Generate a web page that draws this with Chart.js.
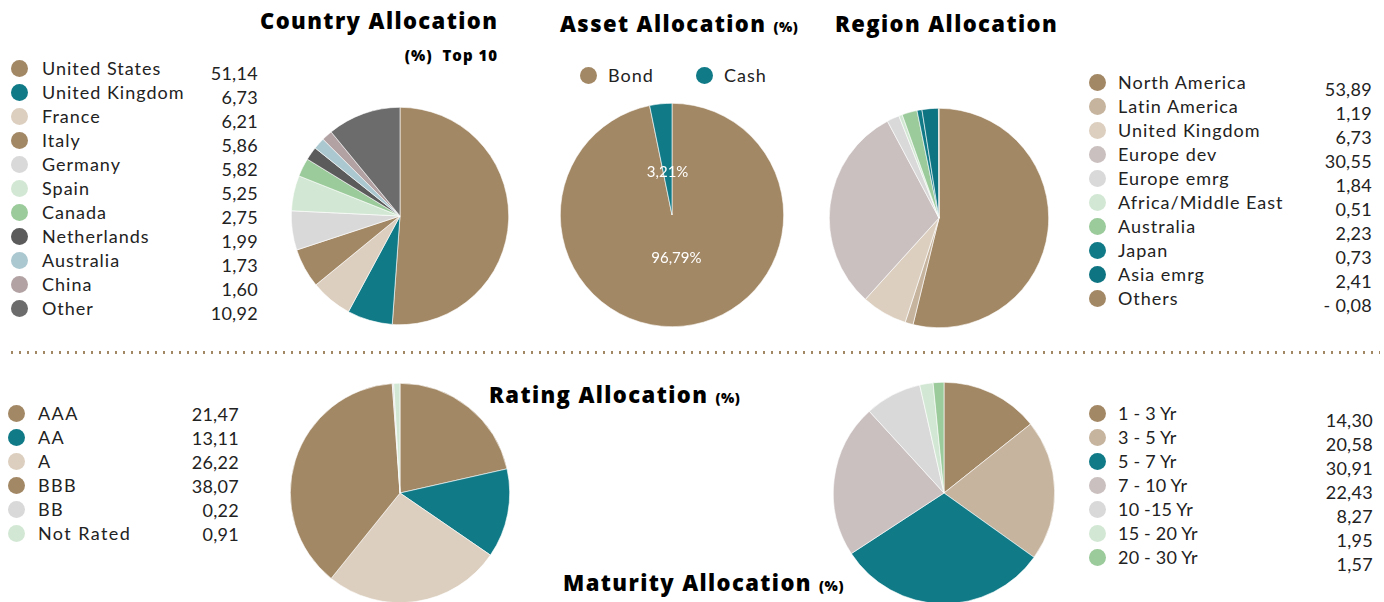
<!DOCTYPE html>
<html>
<head>
<meta charset="utf-8">
<script src="https://cdn.jsdelivr.net/npm/chart.js@4.4.1/dist/chart.umd.min.js"></script>
<style>
  body { margin: 0; background: #fff; width: 1384px; height: 602px; overflow: hidden; position: relative; font-family: "Lato", "Open Sans", sans-serif; color: #222; }
  .title { position: absolute; font-family: "Open Sans", sans-serif; font-weight: 800; font-size: 22px; letter-spacing: 1.4px; color: #000; white-space: nowrap; line-height: 1; }
  .title small { font-size: 14px; font-weight: 800; letter-spacing: 0.5px; }
  .pie { position: absolute; }
  .row { position: absolute; font-size: 18px; line-height: 20px; letter-spacing: 1px; white-space: nowrap; }
  .dot { position: absolute; width: 17px; height: 17px; border-radius: 50%; }
  .val { position: absolute; font-size: 18px; line-height: 20px; letter-spacing: 0.3px; text-align: right; white-space: nowrap; }
  .dots { position: absolute; left: 8px; top: 351px; width: 1372px; height: 3px;
          background-image: radial-gradient(circle, #a38865 1.2px, transparent 1.4px);
          background-size: 8px 3px; }
</style>
</head>
<body>
<div class="title" style="left:260px;top:9px;">Country Allocation</div>
<div class="title" style="left:360px;top:41px;width:138px;text-align:right;"><small style="font-size:15px;letter-spacing:1px;">(%)&nbsp; Top 10</small></div>
<div class="title" style="left:560px;top:12px;">Asset Allocation <small>(%)</small></div>
<div class="title" style="left:835px;top:12px;">Region Allocation</div>
<div class="title" style="left:489px;top:383px;">Rating Allocation <small>(%)</small></div>
<div class="title" style="left:563px;top:571px;">Maturity Allocation <small>(%)</small></div>
<div class="dots"></div>

<canvas id="country" class="pie" width="218" height="218" style="left:291px;top:107px;"></canvas>
<canvas id="asset" class="pie" width="224" height="224" style="left:560px;top:103px;"></canvas>
<canvas id="region" class="pie" width="220" height="220" style="left:829px;top:108px;"></canvas>
<canvas id="rating" class="pie" width="220" height="220" style="left:290px;top:383px;"></canvas>
<canvas id="maturity" class="pie" width="222" height="222" style="left:833px;top:382px;"></canvas>

<script>
// ---- data ----
const countryLabels = ["United States", "United Kingdom", "France", "Italy", "Germany", "Spain", "Canada", "Netherlands", "Australia", "China", "Other"];
const countryValues = [51.14, 6.73, 6.21, 5.86, 5.82, 5.25, 2.75, 1.99, 1.73, 1.60, 10.92];
const countryColors = ["#a38865", "#107a87", "#dccfbf", "#a38865", "#d9d9d9", "#d3e8d4", "#9bca9b", "#5b5b5b", "#abc8d0", "#b3a2a4", "#6c6c6c"];

const assetLabels = ["Bond", "Cash"];
const assetValues = [96.79, 3.21];
const assetColors = ["#a38865", "#107a87"];

const regionLabels = ["North America", "Latin America", "United Kingdom", "Europe dev", "Europe emrg", "Africa/Middle East", "Australia", "Japan", "Asia emrg", "Others"];
const regionValues = [53.89, 1.19, 6.73, 30.55, 1.84, 0.51, 2.23, 0.73, 2.41, -0.08];
const regionColors = ["#a38865", "#c6b49e", "#dccfbf", "#cbc0c0", "#d9d9d9", "#d3e8d4", "#9bca9b", "#107a87", "#0f7482", "#a38865"];

const ratingLabels = ["AAA", "AA", "A", "BBB", "BB", "Not Rated"];
const ratingValues = [21.47, 13.11, 26.22, 38.07, 0.22, 0.91];
const ratingColors = ["#a38865", "#107a87", "#dccfbf", "#a38865", "#d9d9d9", "#d3e8d4"];

const maturityLabels = ["1 - 3 Yr", "3 - 5 Yr", "5 - 7 Yr", "7 - 10 Yr", "10 -15 Yr", "15 - 20 Yr", "20 - 30 Yr"];
const maturityValues = [14.30, 20.58, 30.91, 22.43, 8.27, 1.95, 1.57];
const maturityColors = ["#a38865", "#c6b49e", "#107a87", "#cbc0c0", "#d9d9d9", "#d3e8d4", "#9bca9b"];

const fmt = v => (v < 0 ? "- " : "") + Math.abs(v).toFixed(2).replace(".", ",");

// ---- html legends ----
function legend(labels, values, colors, o) {
  labels.forEach((lab, i) => {
    const y = o.top + i * o.step;
    const d = document.createElement("div");
    d.className = "dot";
    d.style.left = (o.dotX - 8.5) + "px";
    d.style.top = (y - 8.5) + "px";
    d.style.background = colors[i];
    document.body.appendChild(d);
    const t = document.createElement("div");
    t.className = "row";
    t.textContent = lab;
    t.style.left = o.textX + "px";
    t.style.top = (y - 10) + "px";
    if (o.ls !== undefined) t.style.letterSpacing = o.ls + "px";
    document.body.appendChild(t);
    const v = document.createElement("div");
    v.className = "val";
    v.textContent = fmt(values[i]);
    v.style.left = (o.valRight - 100) + "px";
    v.style.width = "100px";
    v.style.top = (y - 10 + o.valDy) + "px";
    document.body.appendChild(v);
  });
}
legend(countryLabels, countryValues, countryColors, { top: 68, step: 24, dotX: 19, textX: 42, valRight: 258, valDy: 5 });
legend(regionLabels, regionValues, regionColors, { top: 82, step: 24, dotX: 1097, textX: 1118, valRight: 1372, valDy: 7 });
legend(ratingLabels, ratingValues, ratingColors, { top: 413, step: 24, dotX: 16, textX: 38, valRight: 239, valDy: 1, ls: 1.4 });
legend(maturityLabels, maturityValues, maturityColors, { top: 413, step: 24, dotX: 1097, textX: 1118, valRight: 1373, valDy: 7, ls: 0.2 });

// asset legend is horizontal
assetLabels.forEach((lab, i) => {
  const x = [588, 704][i];
  const d = document.createElement("div");
  d.className = "dot";
  d.style.left = (x - 8.5) + "px"; d.style.top = (75 - 8.5) + "px";
  d.style.background = assetColors[i];
  document.body.appendChild(d);
  const t = document.createElement("div");
  t.className = "row";
  t.textContent = lab;
  t.style.left = (x + 20) + "px"; t.style.top = "65px";
  document.body.appendChild(t);
});

// ---- pies ----
const sliceLabels = {
  id: "sliceLabels",
  afterDatasetsDraw(chart) {
    const { ctx } = chart;
    const meta = chart.getDatasetMeta(0);
    ctx.save();
    ctx.fillStyle = "#fff";
    ctx.font = "15px Lato, sans-serif";
    ctx.textAlign = "center";
    ctx.textBaseline = "middle";
    meta.data.forEach((arc, i) => {
      const a = (arc.startAngle + arc.endAngle) / 2;
      const r = arc.outerRadius * 0.39;
      const v = chart.data.datasets[0].data[i];
      ctx.fillText(fmt(v) + "%", arc.x + Math.cos(a) * r, arc.y + Math.sin(a) * r);
    });
    ctx.restore();
  }
};

function pie(id, labels, values, colors, plugins) {
  new Chart(document.getElementById(id), {
    type: "pie",
    data: { labels: labels, datasets: [{ data: values, backgroundColor: colors, borderColor: "#fff", borderWidth: 0.6 }] },
    options: {
      responsive: false,
      animation: false,
      layout: { padding: 0 },
      plugins: { legend: { display: false }, tooltip: { enabled: false } }
    },
    plugins: plugins || []
  });
}
pie("country", countryLabels, countryValues, countryColors);
pie("asset", assetLabels, assetValues, assetColors, [sliceLabels]);
pie("region", regionLabels, regionValues, regionColors);
pie("rating", ratingLabels, ratingValues, ratingColors);
pie("maturity", maturityLabels, maturityValues, maturityColors);
</script>
</body>
</html>
